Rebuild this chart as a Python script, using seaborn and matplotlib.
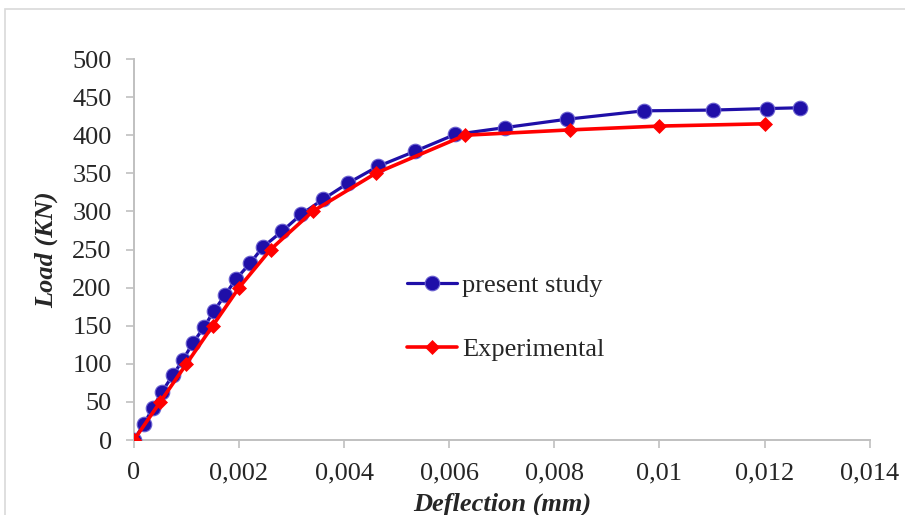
import numpy as np
import pandas as pd
import seaborn as sns
import matplotlib
matplotlib.use("Agg")
from matplotlib import pyplot as plt
from matplotlib.patches import Rectangle
from matplotlib.ticker import FuncFormatter, MultipleLocator

# present study (FE model)
study_defl = [0, 0.00019, 0.00036, 0.00053, 0.00074, 0.00093, 0.00112, 0.00133, 0.00152,
              0.00173, 0.00194, 0.00221, 0.00245, 0.00282, 0.00318, 0.0036, 0.00407,
              0.00464, 0.00535, 0.00611, 0.00706, 0.00824, 0.0097, 0.01101, 0.01204, 0.01267]
study_load = [0, 21, 42, 63, 85, 105, 127, 148, 169, 190, 211, 232, 253, 274, 296, 316, 337,
              359, 379, 401, 410, 421, 432, 433, 435, 436]

# experimental
exp_defl = [0, 0.0005, 0.001, 0.0015, 0.002, 0.0026, 0.0034, 0.0046, 0.0063, 0.0083, 0.01, 0.012]
exp_load = [0, 50, 100, 150, 200, 250, 300, 350, 400, 407, 412, 415]

sns.set_style("white")
plt.rcParams['font.family'] = ['Liberation Serif', 'DejaVu Serif']

fig = plt.figure(figsize=(9.05, 5.15), dpi=100)
ax = fig.add_axes([0.148, 0.1456, 0.813, 0.7398])

df_study = pd.DataFrame({"x": study_defl, "y": study_load})
df_exp = pd.DataFrame({"x": exp_defl, "y": exp_load})

sns.lineplot(data=df_study, x="x", y="y", ax=ax, sort=False, color="#1F0FA8", linewidth=2.3,
             marker="o", markersize=10.5, markeredgecolor="#6A60D0", markeredgewidth=0.8,
             label="present study", zorder=3)
sns.lineplot(data=df_exp, x="x", y="y", ax=ax, sort=False, color="#FF0000", linewidth=2.6,
             marker="D", markersize=7, markeredgecolor="#FF0000", markeredgewidth=0.5,
             label="Experimental", zorder=4)

ax.set_xlim(0, 0.014)
ax.set_ylim(0, 500)
ax.xaxis.set_major_locator(MultipleLocator(0.002))
ax.yaxis.set_major_locator(MultipleLocator(50))
ax.xaxis.set_major_formatter(FuncFormatter(lambda v, p: f"{v:g}".replace('.', ',')))
ax.yaxis.set_major_formatter(FuncFormatter(lambda v, p: f"{v:g}"))

for s in ["top", "right"]:
    ax.spines[s].set_visible(False)
for s in ["left", "bottom"]:
    ax.spines[s].set_color("#C0C0C0")
    ax.spines[s].set_linewidth(1.4)
ax.tick_params(axis="both", which="major", direction="out", length=6, width=1.2,
               color="#C0C0C0", labelsize=19, pad=10, left=True, bottom=True)

ax.set_xlabel("Deflection (mm)", fontsize=19, fontweight="bold", fontstyle="italic", labelpad=6)
ax.set_ylabel("Load (KN)", fontsize=19, fontweight="bold", fontstyle="italic", labelpad=10)

ax.legend(loc="upper left", bbox_to_anchor=(0.371, 0.436), frameon=False, fontsize=19,
          handlelength=1.9, handletextpad=0.2, labelspacing=1.52, borderpad=0, borderaxespad=0)

# chart area frame
fig.patches.append(Rectangle((5 / 905, -0.1), 1.0, 1 - 9 / 515 + 0.1, transform=fig.transFigure,
                             fill=False, edgecolor="#D9D9D9", linewidth=1.2))

fig.savefig("out.png", dpi=100)
